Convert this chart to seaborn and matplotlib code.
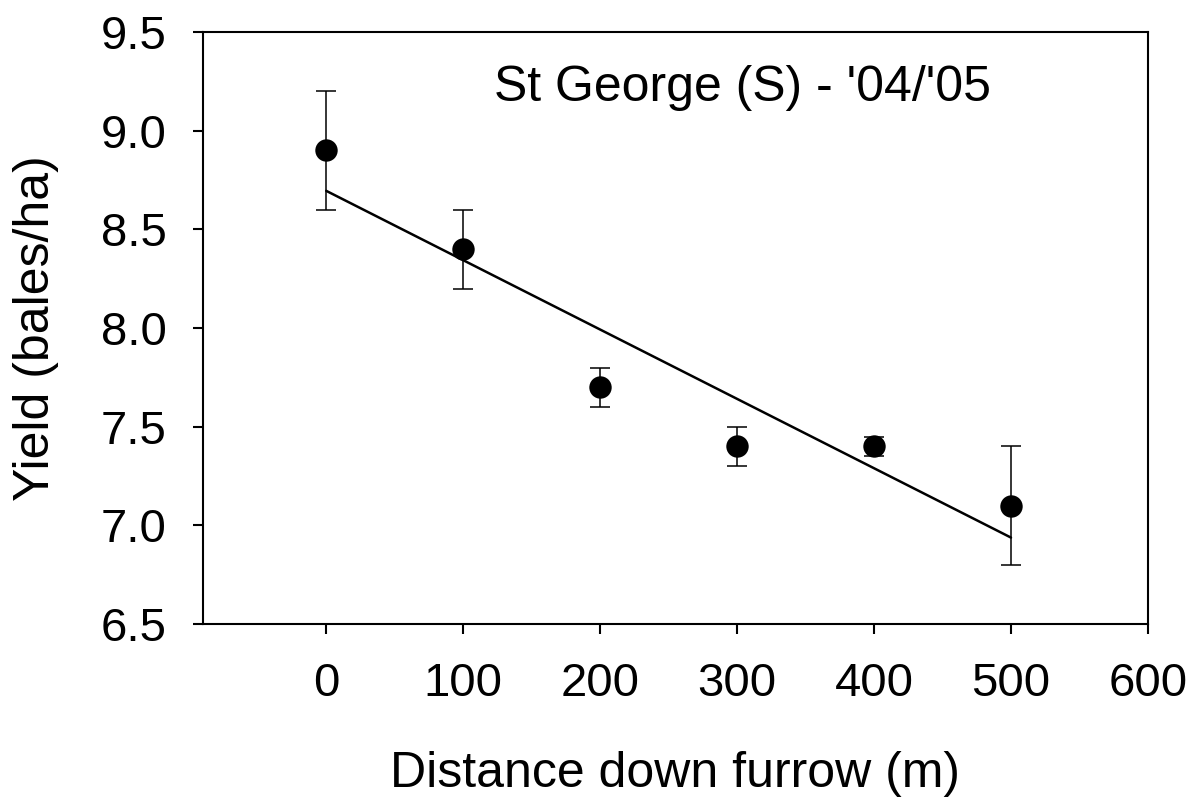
import numpy as np
import pandas as pd
import matplotlib.pyplot as plt
import seaborn as sns

# data
distance = [0, 100, 200, 300, 400, 500]
yield_mean = [8.90, 8.40, 7.70, 7.40, 7.40, 7.10]
yield_err = [0.30, 0.20, 0.10, 0.10, 0.05, 0.30]

df = pd.DataFrame({'distance': distance, 'yield': yield_mean, 'err': yield_err})

sns.set_style('ticks')
plt.rcParams['font.family'] = ['Liberation Sans', 'DejaVu Sans']
plt.rcParams['text.color'] = 'black'
plt.rcParams['axes.labelcolor'] = 'black'

fig = plt.figure(figsize=(11.97, 8.05), dpi=100)
ax = fig.add_axes([0.1696, 0.2248, 0.7894, 0.7354])

# error bars
ax.errorbar(df['distance'], df['yield'], yerr=df['err'], fmt='none',
            ecolor='black', elinewidth=1.1, capsize=7, capthick=1.1, zorder=2)

# linear regression line
sns.regplot(data=df, x='distance', y='yield', scatter=False, ci=None,
            line_kws={'color': 'black', 'lw': 1.8}, ax=ax)

# mean points
sns.scatterplot(data=df, x='distance', y='yield', color='black', s=260,
                edgecolor='black', linewidth=0, zorder=3, ax=ax)

ax.set_xlim(-90, 600)
ax.set_ylim(6.5, 9.5)
ax.set_xticks([0, 100, 200, 300, 400, 500, 600])
ax.set_yticks([6.5, 7.0, 7.5, 8.0, 8.5, 9.0, 9.5])
ax.set_yticklabels(['6.5', '7.0', '7.5', '8.0', '8.5', '9.0', '9.5'])

for side in ['left', 'right', 'top', 'bottom']:
    ax.spines[side].set_linewidth(1.5)
    ax.spines[side].set_color('black')
ax.tick_params(axis='both', direction='out', length=7, width=1.5,
               labelsize=34, colors='black')
ax.tick_params(axis='y', pad=19)
ax.tick_params(axis='x', pad=20)

ax.set_xlabel('Distance down furrow (m)', fontsize=36, labelpad=33)
ax.set_ylabel('Yield (bales/ha)', fontsize=36, labelpad=30)

ax.text(0.571, 0.905, "St George (S) - '04/'05", transform=ax.transAxes,
        fontsize=36, ha='center', va='center')

fig.savefig('out.png', dpi=100)
